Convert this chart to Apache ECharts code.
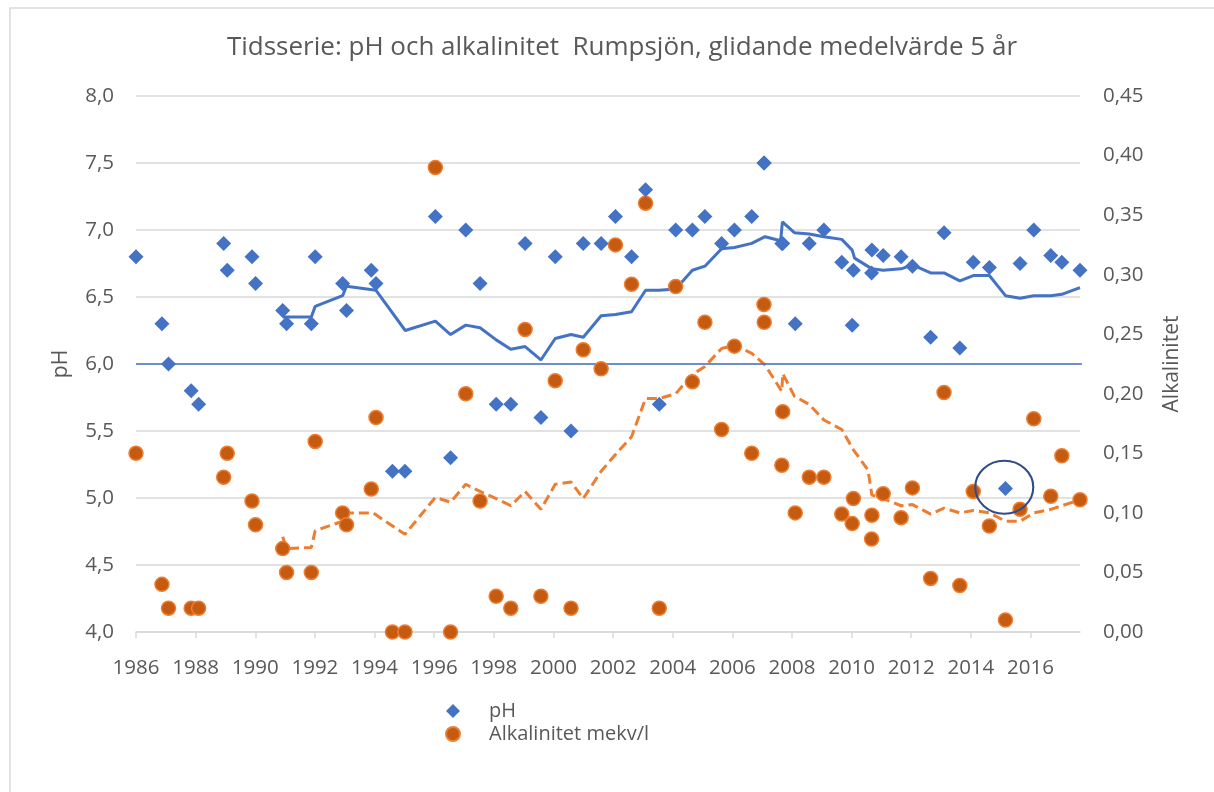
<!DOCTYPE html>
<html>
<head>
<meta charset="utf-8">
<script src="https://cdn.jsdelivr.net/npm/echarts@6/dist/echarts.min.js"></script>
<style>
  html, body { margin: 0; padding: 0; background: #fff; }
  #main { width: 1214px; height: 792px; }
</style>
</head>
<body>
<div id="main"></div>
<script>
// provtagningar (år som decimaltal)
var years = [1986.00, 1986.87, 1987.09, 1987.85, 1988.10, 1988.94, 1989.06, 1989.89, 1990.01, 1990.92,
  1991.05, 1991.88, 1992.01, 1992.93, 1993.06, 1993.89, 1994.05, 1994.60, 1995.02, 1996.04,
  1996.55, 1997.06, 1997.54, 1998.08, 1998.57, 1999.05, 1999.58, 2000.06, 2000.59, 2001.00,
  2001.60, 2002.08, 2002.62, 2003.09, 2003.55, 2004.10, 2004.66, 2005.08, 2005.64, 2006.07,
  2006.65, 2007.06, 2007.07, 2007.66, 2007.69, 2008.11, 2008.58, 2009.07, 2009.67, 2010.02,
  2010.06, 2010.67, 2010.68, 2011.06, 2011.66, 2012.04, 2012.65, 2013.10, 2013.63, 2014.08,
  2014.62, 2015.16, 2015.65, 2016.11, 2016.68, 2017.05, 2017.66];
var ph = [6.80, 6.30, 6.00, 5.80, 5.70, 6.90, 6.70, 6.80, 6.60, 6.40,
  6.30, 6.30, 6.80, 6.60, 6.40, 6.70, 6.60, 5.20, 5.20, 7.10,
  5.30, 7.00, 6.60, 5.70, 5.70, 6.90, 5.60, 6.80, 5.50, 6.90,
  6.90, 7.10, 6.80, 7.30, 5.70, 7.00, 7.00, 7.10, 6.90, 7.00,
  7.10, 7.50, 7.50, 6.90, 6.90, 6.30, 6.90, 7.00, 6.76, 6.29,
  6.70, 6.68, 6.85, 6.81, 6.80, 6.73, 6.20, 6.98, 6.12, 6.76,
  6.72, 5.07, 6.75, 7.00, 6.81, 6.76, 6.70];
var alk = [0.150, 0.040, 0.020, 0.020, 0.020, 0.130, 0.150, 0.110, 0.090, 0.070,
  0.050, 0.050, 0.160, 0.100, 0.090, 0.120, 0.180, 0.000, 0.000, 0.390,
  0.000, 0.200, 0.110, 0.030, 0.020, 0.254, 0.030, 0.211, 0.020, 0.237,
  0.221, 0.325, 0.292, 0.360, 0.020, 0.290, 0.210, 0.260, 0.170, 0.240,
  0.150, 0.275, 0.260, 0.140, 0.185, 0.100, 0.130, 0.130, 0.099, 0.091,
  0.112, 0.078, 0.098, 0.116, 0.096, 0.121, 0.045, 0.201, 0.039, 0.118,
  0.089, 0.010, 0.103, 0.179, 0.114, 0.148, 0.111];

// glidande medelvärde 5 år
var phMaYears = [1990.92, 1991.88, 1992.01, 1992.93, 1993.06, 1994.05, 1995.03, 1996.04, 1996.55, 1997.06,
  1997.54, 1998.08, 1998.57, 1999.05, 1999.58, 2000.06, 2000.59, 2001.00, 2001.60, 2002.08,
  2002.62, 2003.09, 2003.55, 2004.10, 2004.66, 2005.08, 2005.64, 2006.07, 2006.65, 2007.10,
  2007.62, 2007.68, 2008.08, 2008.58, 2009.07, 2009.67, 2010.02, 2010.10, 2010.68, 2011.06,
  2011.66, 2012.04, 2012.65, 2013.10, 2013.63, 2014.08, 2014.62, 2015.16, 2015.65, 2016.11,
  2016.68, 2017.05, 2017.66];
var phMa = [6.35, 6.35, 6.43, 6.51, 6.58, 6.55, 6.25, 6.32, 6.22, 6.29,
  6.27, 6.18, 6.11, 6.13, 6.03, 6.19, 6.22, 6.20, 6.36, 6.37,
  6.39, 6.55, 6.55, 6.56, 6.70, 6.73, 6.86, 6.87, 6.90, 6.95,
  6.92, 7.06, 6.98, 6.97, 6.95, 6.93, 6.85, 6.79, 6.71, 6.70,
  6.71, 6.74, 6.68, 6.68, 6.62, 6.66, 6.66, 6.51, 6.49, 6.51,
  6.51, 6.52, 6.57];
var alkMaYears = [1990.92, 1991.05, 1991.88, 1992.01, 1992.93, 1993.06, 1993.95, 1995.02, 1996.04, 1996.55,
  1997.06, 1997.54, 1998.08, 1998.57, 1999.05, 1999.58, 2000.06, 2000.59, 2001.00, 2001.60,
  2002.08, 2002.62, 2003.09, 2003.55, 2004.10, 2004.66, 2005.08, 2005.64, 2006.07, 2006.65,
  2007.10, 2007.66, 2007.69, 2008.08, 2008.58, 2009.07, 2009.67, 2010.06, 2010.55, 2010.68,
  2011.06, 2011.66, 2012.04, 2012.65, 2013.10, 2013.63, 2014.08, 2014.62, 2015.16, 2015.65,
  2016.11, 2016.68, 2017.05, 2017.66];
var alkMa = [0.080, 0.070, 0.071, 0.085, 0.093, 0.100, 0.100, 0.082, 0.113, 0.109,
  0.124, 0.118, 0.112, 0.106, 0.118, 0.103, 0.124, 0.126, 0.112, 0.135,
  0.149, 0.164, 0.196, 0.196, 0.200, 0.216, 0.223, 0.238, 0.241, 0.234,
  0.224, 0.202, 0.217, 0.198, 0.191, 0.178, 0.170, 0.153, 0.136, 0.115,
  0.112, 0.106, 0.107, 0.099, 0.104, 0.100, 0.102, 0.100, 0.093, 0.093,
  0.100, 0.103, 0.106, 0.111];

var yearTicks = [1986, 1988, 1990, 1992, 1994, 1996, 1998, 2000, 2002, 2004, 2006, 2008, 2010, 2012, 2014, 2016];
var refLine = [[1986, 6.0], [2019.48, 6.0]];   // handritad linje vid pH 6,0
var marked = [[2015.12, 5.08]];                // inringad mätning

function pairs(xs, ys) {
    return xs.map(function (x, i) { return [x, ys[i]]; });
}
function comma(v, d) {
    return v.toFixed(d).replace('.', ',');
}

var font = 'Open Sans';
var grey = '#595959';
var myChart = echarts.init(document.getElementById('main'));

option = {
    backgroundColor: '#fff',
    animation: false,
    textStyle: { fontFamily: font },
    title: {
        text: 'Tidsserie: pH och alkalinitet  Rumpsjön, glidande medelvärde 5 år',
        left: 617,
        textAlign: 'center',
        top: 30,
        textStyle: { fontFamily: font, fontSize: 26, fontWeight: 'normal', color: grey }
    },
    graphic: [{
        type: 'rect',
        shape: { x: 10, y: 8, width: 1230, height: 800 },
        style: { fill: 'none', stroke: '#d9d9d9', lineWidth: 1.5 },
        silent: true
    }],
    legend: {
        orient: 'vertical',
        left: 440,
        top: 696,
        itemWidth: 14,
        itemHeight: 14,
        itemGap: 3,
        data: ['pH', 'Alkalinitet mekv/l'],
        itemStyle: { opacity: 1 },
        textStyle: { fontFamily: font, fontSize: 20, color: grey, padding: [0, 0, 0, 24] }
    },
    grid: { left: 136, right: 134, top: 96, bottom: 160 },
    xAxis: {
        type: 'value',
        min: 1986,
        max: 2017.66,
        splitLine: { show: false },
        axisLine: { lineStyle: { color: '#d9d9d9', width: 1.5 } },
        axisTick: { length: 6, lineStyle: { color: '#d9d9d9', width: 1.5 }, customValues: yearTicks },
        axisLabel: { customValues: yearTicks, fontSize: 20.5, color: grey, margin: 26, fontFamily: font,
            formatter: function (v) { return String(v); } }
    },
    yAxis: [{
        type: 'value',
        name: 'pH',
        nameLocation: 'middle',
        nameRotate: 90,
        nameGap: 64,
        nameTextStyle: { fontSize: 21, color: grey, fontFamily: font },
        min: 4,
        max: 8,
        interval: 0.5,
        axisLine: { show: false },
        axisTick: { show: false },
        splitLine: { lineStyle: { color: '#d9d9d9', width: 1.5 } },
        axisLabel: { fontSize: 20.5, color: grey, margin: 22, fontFamily: font,
            formatter: function (v) { return comma(v, 1); } }
    }, {
        type: 'value',
        name: 'Alkalinitet',
        nameLocation: 'middle',
        nameRotate: 90,
        nameGap: 82,
        nameTextStyle: { fontSize: 21, color: grey, fontFamily: font },
        min: 0,
        max: 0.45,
        interval: 0.05,
        axisLine: { show: false },
        axisTick: { show: false },
        splitLine: { show: false },
        axisLabel: { fontSize: 20.5, color: grey, margin: 23, fontFamily: font,
            formatter: function (v) { return comma(v, 2); } }
    }],
    series: [{
        name: 'pH medel',
        type: 'line',
        yAxisIndex: 0,
        showSymbol: false,
        z: 2,
        lineStyle: { color: '#4472c4', width: 3 },
        data: pairs(phMaYears, phMa)
    }, {
        name: 'Alk medel',
        type: 'line',
        yAxisIndex: 1,
        showSymbol: false,
        z: 2,
        lineStyle: { color: '#ed7d31', width: 3, type: [10, 5] },
        data: pairs(alkMaYears, alkMa)
    }, {
        name: 'ref',
        type: 'line',
        yAxisIndex: 0,
        showSymbol: false,
        clip: false,
        silent: true,
        z: 2,
        lineStyle: { color: '#4472c4', width: 1.5 },
        data: refLine
    }, {
        name: 'pH',
        type: 'scatter',
        yAxisIndex: 0,
        symbol: 'diamond',
        symbolSize: 15,
        z: 4,
        itemStyle: { color: '#4472c4', opacity: 1 },
        data: pairs(years, ph)
    }, {
        name: 'Alkalinitet mekv/l',
        type: 'scatter',
        yAxisIndex: 1,
        symbol: 'circle',
        symbolSize: 14,
        z: 3,
        itemStyle: { color: '#c55a11', borderColor: '#ed7d31', borderWidth: 1.5, opacity: 1 },
        data: pairs(years, alk)
    }, {
        name: 'ring',
        type: 'scatter',
        yAxisIndex: 0,
        symbol: 'circle',
        symbolSize: [58, 53],
        silent: true,
        z: 5,
        itemStyle: { color: 'rgba(0,0,0,0)', borderColor: '#2f4c8c', borderWidth: 2, opacity: 1 },
        data: marked
    }]
};

myChart.setOption(option);
</script>
</body>
</html>
